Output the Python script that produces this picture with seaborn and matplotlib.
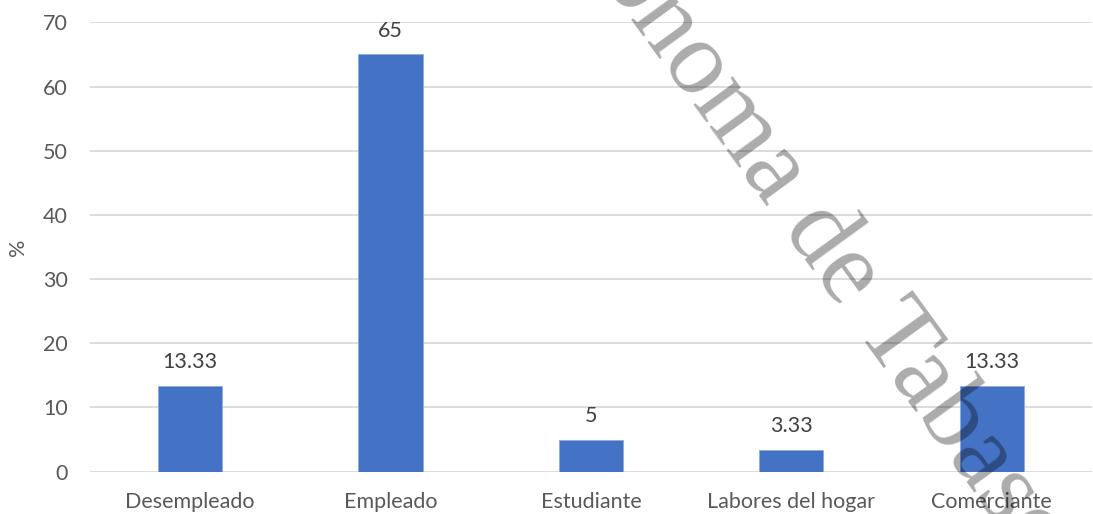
import pandas as pd
import seaborn as sns
import matplotlib.pyplot as plt

# data
ocupacion = ["Desempleado", "Empleado", "Estudiante", "Labores del hogar", "Comerciante"]
porcentaje = [13.33, 65, 5, 3.33, 13.33]
yticks = [0, 10, 20, 30, 40, 50, 60, 70]

df = pd.DataFrame({"ocupacion": ocupacion, "porcentaje": porcentaje})

sns.set_style("white")
plt.rcParams['font.family'] = ['Lato', 'DejaVu Sans']

fig = plt.figure(figsize=(10.93, 5.14), dpi=100)
ax = fig.add_axes([0.0823, 0.0823, 0.9167, 0.8743])

g = sns.barplot(data=df, x="ocupacion", y="porcentaje", color="#4472C4",
                width=0.32, saturation=1, ax=ax, zorder=3)
for p in g.patches:
    p.set_edgecolor("#8FAADC")
    p.set_linewidth(0.6)

g.bar_label(g.containers[0], fmt="%g", padding=10, fontsize=15.5, color="#404040")

g.set_ylim(0, 70)
g.set_xlim(-0.5, 4.5)
g.set_yticks(yticks)
g.yaxis.grid(True, color="#D9D9D9", linewidth=1.3, zorder=0)
g.set_axisbelow(True)
for s in g.spines.values():
    s.set_visible(False)
g.tick_params(axis="both", length=0, labelsize=15.5, labelcolor="#595959")
g.tick_params(axis="y", pad=16)
g.tick_params(axis="x", pad=14.5)
g.set_xlabel("")
g.set_ylabel("%", fontsize=15.5, color="#595959", labelpad=11)

# watermark
wm_x, wm_y = 782 / 1093, 1 - 228 / 514
fig.text(wm_x, wm_y, "Universidad Juárez Autónoma ", rotation=-54,
         rotation_mode="anchor", ha="right", va="baseline", fontsize=76,
         family="Liberation Serif", color="black", alpha=0.33, zorder=10)
fig.text(wm_x, wm_y, "de Tabasco", rotation=-54,
         rotation_mode="anchor", ha="left", va="baseline", fontsize=76,
         family="Liberation Serif", color="black", alpha=0.33, zorder=10)

plt.savefig("out.png")
